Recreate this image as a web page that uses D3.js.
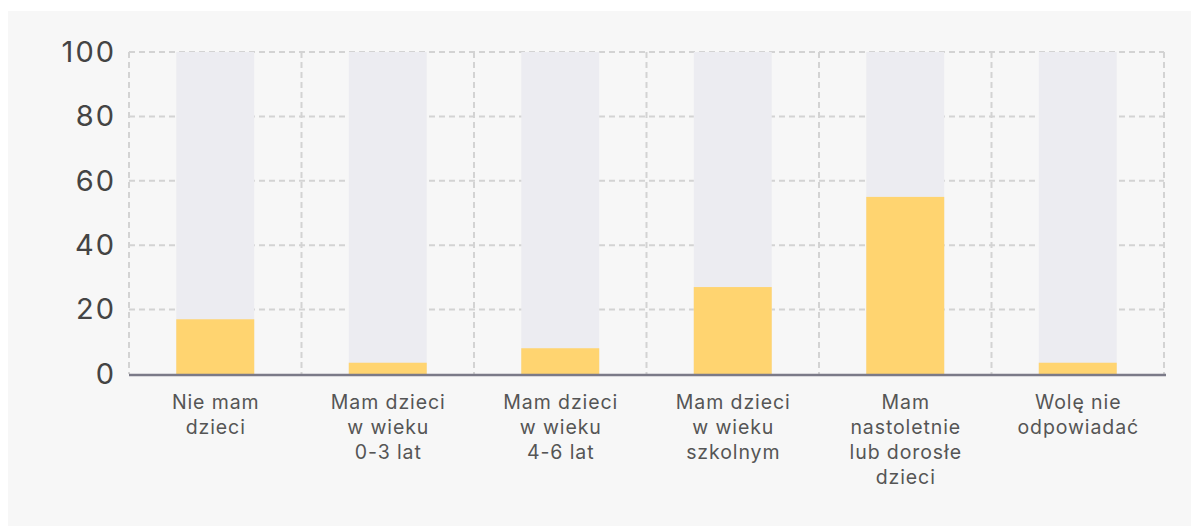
<!DOCTYPE html>
<html>
<head>
<meta charset="utf-8">
<script src="https://cdn.jsdelivr.net/npm/d3@7"></script>
<style>
  body { margin: 0; background: #fff; }
  svg { display: block; font-family: Inter, "Noto Sans", sans-serif; }
</style>
</head>
<body>
<div id="chart"></div>
<script>
// data
var categories = ["Nie mam dzieci", "Mam dzieci w wieku 0-3 lat", "Mam dzieci w wieku 4-6 lat",
                  "Mam dzieci w wieku szkolnym", "Mam nastoletnie lub dorosłe dzieci", "Wolę nie odpowiadać"];
var labelLines = [["Nie mam", "dzieci"], ["Mam dzieci", "w wieku", "0-3 lat"], ["Mam dzieci", "w wieku", "4-6 lat"],
                  ["Mam dzieci", "w wieku", "szkolnym"], ["Mam", "nastoletnie", "lub dorosłe", "dzieci"], ["Wolę nie", "odpowiadać"]];
var values = [17, 3.5, 8, 27, 55, 3.5];
var maxValue = 100;
var yTicks = [0, 20, 40, 60, 80, 100];

var width = 1199, height = 526;
var margin = {top: 52, right: 35, bottom: 152, left: 129};

var svg = d3.select("#chart").append("svg")
    .attr("width", width)
    .attr("height", height);

// panel background
svg.append("rect")
    .attr("x", 8).attr("y", 11)
    .attr("width", 1183).attr("height", height - 11)
    .attr("fill", "#f7f7f7");

var g = svg.append("g")
    .attr("transform", "translate(" + margin.left + "," + margin.top + ")");

var w = width - margin.left - margin.right;
var h = height - margin.top - margin.bottom;

var x = d3.scaleBand()
    .domain(categories)
    .range([0, w])
    .paddingInner(0.548)
    .paddingOuter(0.274);

var y = d3.scaleLinear()
    .domain([0, maxValue])
    .range([h, 0]);

var step = x.step();

// horizontal grid
g.selectAll(".hgrid")
    .data(yTicks.filter(function(d) { return d > 0; }))
    .enter().append("line")
    .attr("x1", 0).attr("x2", w)
    .attr("y1", function(d) { return y(d); })
    .attr("y2", function(d) { return y(d); })
    .attr("stroke", "#d3d3d3")
    .attr("stroke-width", 2)
    .attr("stroke-dasharray", "6,4");

// vertical grid at band boundaries
g.selectAll(".vgrid")
    .data(d3.range(categories.length + 1))
    .enter().append("line")
    .attr("x1", function(i) { return i * step; })
    .attr("x2", function(i) { return i * step; })
    .attr("y1", 0).attr("y2", h)
    .attr("stroke", "#d3d3d3")
    .attr("stroke-width", 2)
    .attr("stroke-dasharray", "6,4");

// background bars
g.selectAll(".bg")
    .data(categories)
    .enter().append("rect")
    .attr("x", function(d) { return x(d); })
    .attr("y", y(maxValue))
    .attr("width", x.bandwidth())
    .attr("height", h - y(maxValue))
    .attr("fill", "#ececf1");

// value bars
g.selectAll(".bar")
    .data(values)
    .enter().append("rect")
    .attr("x", function(d, i) { return x(categories[i]); })
    .attr("y", function(d) { return y(d); })
    .attr("width", x.bandwidth())
    .attr("height", function(d) { return h - y(d); })
    .attr("fill", "#ffd470");

// y axis labels
var yAxis = g.append("g")
    .call(d3.axisLeft(y).tickValues(yTicks).tickSize(0).tickPadding(13));
yAxis.select(".domain").remove();
yAxis.selectAll("text")
    .attr("fill", "#444")
    .style("font-size", "29px")
    .style("letter-spacing", "2px")
    .style("font-family", "Inter, 'Noto Sans', sans-serif");

// baseline
g.append("line")
    .attr("x1", 0).attr("x2", w + 2)
    .attr("y1", h + 1).attr("y2", h + 1)
    .attr("stroke", "#7b7a88")
    .attr("stroke-width", 2.5);

// x labels
var lab = g.selectAll(".xlabel")
    .data(categories)
    .enter().append("text")
    .attr("text-anchor", "middle")
    .attr("fill", "#555")
    .style("font-size", "19.5px")
    .style("letter-spacing", "0.9px")
    .attr("transform", function(d) {
        return "translate(" + (x(d) + x.bandwidth() / 2 + 0.5) + "," + (h + 35) + ")";
    });

lab.selectAll("tspan")
    .data(function(d, i) { return labelLines[i]; })
    .enter().append("tspan")
    .attr("x", 0)
    .attr("y", function(d, i) { return i * 25; })
    .text(function(d) { return d; });
</script>
</body>
</html>
